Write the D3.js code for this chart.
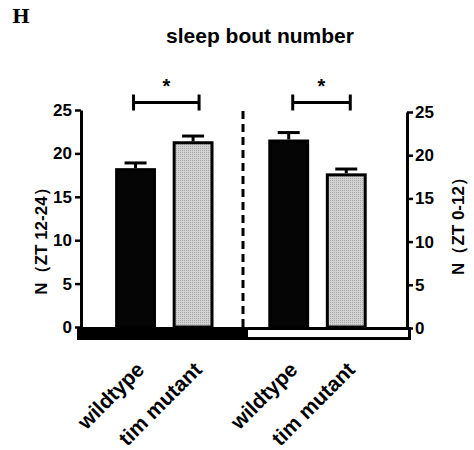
<!DOCTYPE html>
<html lang="en">
<head>
  <meta charset="UTF-8">
  <title>sleep bout number</title>
  <script src="https://d3js.org/d3.v7.min.js"></script>
  <style>
    * { margin: 0; padding: 0; box-sizing: border-box; }
    body { background: #fff; font-family: "Liberation Sans", Arial, sans-serif; }
    svg text { font-weight: bold; fill: #000; }
  </style>
</head>
<body>
  <div id="chart"></div>
  <script>
    // data
    const periods = ["ZT 12-24", "ZT 0-12"];
    const genotypes = ["wildtype", "tim mutant"];
    const means = [[18.3, 21.4], [21.6, 17.7]];   // per period, per genotype
    const sems  = [[0.6, 0.6], [0.8, 0.5]];
    const yTicks = [0, 5, 10, 15, 20, 25];

    const W = 474, H = 450;
    const svg = d3.select("#chart").append("svg")
      .attr("width", W).attr("height", H);

    // pattern for the grey bars
    const pat = svg.append("defs").append("pattern")
      .attr("id", "grey").attr("width", 2).attr("height", 2)
      .attr("patternUnits", "userSpaceOnUse");
    pat.append("rect").attr("width", 2).attr("height", 2).attr("fill", "#d2d2d2");
    pat.append("rect").attr("width", 1).attr("height", 1).attr("fill", "#a9a9a9");

    const x0 = d3.scaleBand().domain(periods).range([81, 409]);
    // inner band per period (left group sits a bit more to the right)
    const aligns = [0.52, 0.355];
    const x1 = periods.map((p, i) => d3.scaleBand().domain(genotypes)
      .range([0, x0.bandwidth()]).paddingInner(0.29).paddingOuter(0.57).align(aligns[i]));

    const y = d3.scaleLinear().domain([0, 25]).range([327, 110]);
    const yR = d3.scaleLinear().domain([0, 25]).range([328, 112]);

    // header
    svg.append("text").attr("x", 12).attr("y", 23)
      .style("font-family", "DejaVu Serif").style("font-size", "19px").text("H");
    svg.append("text").attr("x", 260).attr("y", 43).attr("text-anchor", "middle")
      .style("font-size", "21px").text("sleep bout number");

    // bottom light/dark band
    svg.append("rect").attr("x", x0(periods[0]) - 4).attr("y", 327)
      .attr("width", x0.bandwidth() + 4).attr("height", 13).attr("fill", "#000");
    svg.append("rect").attr("x", x0(periods[1]) + 1.5).attr("y", 328.5)
      .attr("width", x0.bandwidth() - 1).attr("height", 10)
      .attr("fill", "#fff").attr("stroke", "#000").attr("stroke-width", 3);

    // dashed divider
    svg.append("line").attr("x1", x0(periods[1]) - 2).attr("x2", x0(periods[1]) - 2)
      .attr("y1", y(25) + 1).attr("y2", y(0))
      .attr("stroke", "#000").attr("stroke-width", 3).attr("stroke-dasharray", "8,5");

    // axes
    const axL = svg.append("g").attr("transform", "translate(81,0)")
      .call(d3.axisLeft(y).tickValues(yTicks).tickSize(6).tickSizeOuter(0).tickPadding(3));
    const axR = svg.append("g").attr("transform", "translate(407,0)")
      .call(d3.axisRight(yR).tickValues(yTicks).tickSize(6).tickSizeOuter(0).tickPadding(2));
    [axL, axR].forEach(g => {
      g.select(".domain").attr("stroke-width", 3);
      g.selectAll(".tick line").attr("stroke-width", 2.5);
      g.selectAll(".tick text").style("font-size", "17px").style("font-weight", "bold")
        .style("font-family", "Liberation Sans, Arial, sans-serif");
    });

    svg.append("text").attr("transform", "translate(47,237) rotate(-90)")
      .attr("text-anchor", "middle").style("font-size", "17px")
      .text("N（ZT 12-24）");
    svg.append("text").attr("transform", "translate(464,222) rotate(-90)")
      .attr("text-anchor", "middle").style("font-size", "17px")
      .text("N（ZT 0-12）");

    // bars
    periods.forEach((p, i) => {
      genotypes.forEach((g, j) => {
        const bx = x0(p) + x1[i](g), bw = x1[i].bandwidth(), cx = bx + bw / 2;
        const v = means[i][j], e = sems[i][j];
        // error bar
        svg.append("line").attr("x1", cx).attr("x2", cx)
          .attr("y1", y(v)).attr("y2", y(v + e)).attr("stroke", "#000").attr("stroke-width", 3);
        svg.append("line").attr("x1", cx - 11).attr("x2", cx + 11)
          .attr("y1", y(v + e)).attr("y2", y(v + e)).attr("stroke", "#000").attr("stroke-width", 3);
        svg.append("rect").attr("x", bx + 1.5).attr("y", y(v) + 1.5)
          .attr("width", bw - 3).attr("height", y(0) - y(v) - 1.5)
          .attr("fill", j === 0 ? "#050505" : "url(#grey)")
          .attr("stroke", "#000").attr("stroke-width", 3);
        svg.append("text")
          .attr("transform", `translate(${cx + 10},371) rotate(-45)`)
          .attr("text-anchor", "end").style("font-size", "21px").text(g);
      });

      // significance bracket
      const a = x0(p) + x1[i](genotypes[0]) + x1[i].bandwidth() / 2;
      const b = x0(p) + x1[i](genotypes[1]) + x1[i].bandwidth() / 2;
      const sh = i === 0 ? -2 : 4;
      const yb = 102.5;
      svg.append("line").attr("x1", a + sh).attr("x2", b + sh + 8 * (1 - i))
        .attr("y1", yb).attr("y2", yb).attr("stroke", "#000").attr("stroke-width", 3);
      [a + sh, b + sh + 8 * (1 - i)].forEach(xx => svg.append("line")
        .attr("x1", xx).attr("x2", xx).attr("y1", yb - 8).attr("y2", yb + 8)
        .attr("stroke", "#000").attr("stroke-width", 3));
      svg.append("text").attr("x", (a + b) / 2 + sh + 4 * (1 - i)).attr("y", 93)
        .attr("text-anchor", "middle").style("font-size", "20px").text("*");
    });
  </script>
</body>
</html>
